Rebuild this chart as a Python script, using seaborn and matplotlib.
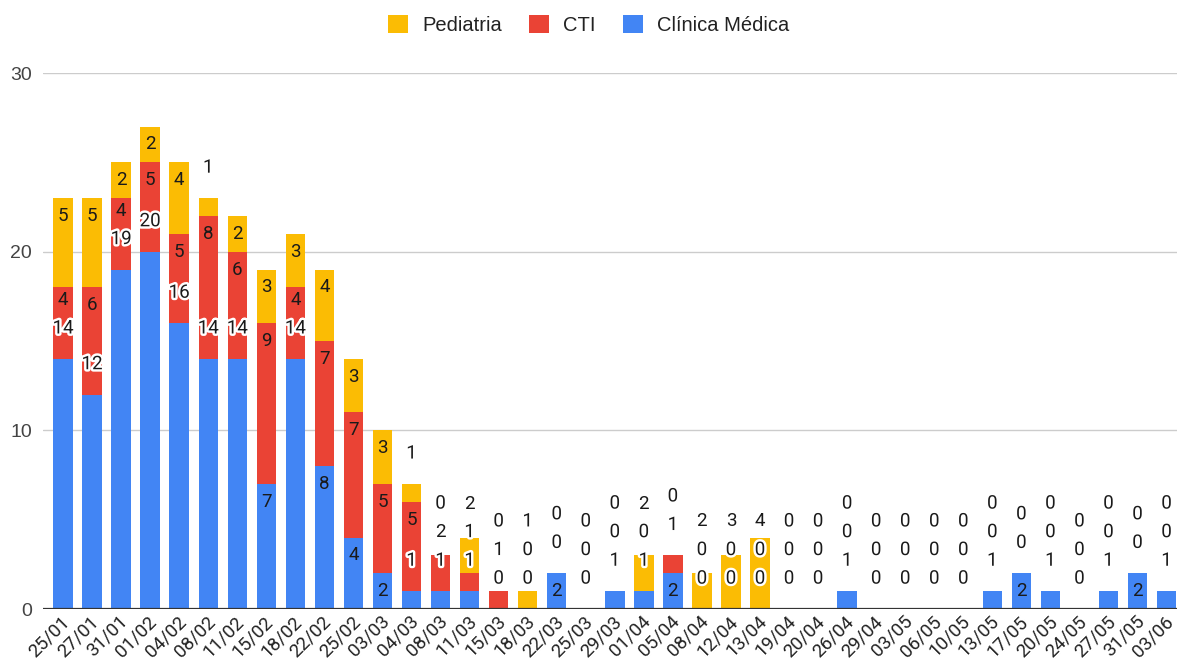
import numpy as np
import pandas as pd
import matplotlib
matplotlib.use("Agg")
import matplotlib.pyplot as plt
import matplotlib.patheffects as pe
import matplotlib.transforms as mtransforms
from matplotlib.patches import Patch
import seaborn as sns

dates = ["25/01", "27/01", "31/01", "01/02", "04/02", "08/02", "11/02", "15/02", "18/02",
         "22/02", "25/02", "03/03", "04/03", "08/03", "11/03", "15/03", "18/03", "22/03",
         "25/03", "29/03", "01/04", "05/04", "08/04", "12/04", "13/04", "19/04", "20/04",
         "26/04", "29/04", "03/05", "06/05", "10/05", "13/05", "17/05", "20/05", "24/05",
         "27/05", "31/05", "03/06"]
clinica = [14, 12, 19, 20, 16, 14, 14, 7, 14, 8, 4, 2, 1, 1, 1, 0, 0, 2, 0, 1, 1, 2, 0, 0, 0,
           0, 0, 1, 0, 0, 0, 0, 1, 2, 1, 0, 1, 2, 1]
cti = [4, 6, 4, 5, 5, 8, 6, 9, 4, 7, 7, 5, 5, 2, 1, 1, 0, 0, 0, 0, 0, 1, 0, 0, 0,
       0, 0, 0, 0, 0, 0, 0, 0, 0, 0, 0, 0, 0, 0]
pediatria = [5, 5, 2, 2, 4, 1, 2, 3, 3, 4, 3, 3, 1, 0, 2, 0, 1, 0, 0, 0, 2, 0, 2, 3, 4,
             0, 0, 0, 0, 0, 0, 0, 0, 0, 0, 0, 0, 0, 0]
series_names = ["Clínica Médica", "CTI", "Pediatria"]
y_ticks = [0, 10, 20, 30]

BLUE = "#4285F4"
RED = "#EA4335"
YEL = "#FBBC04"

sns.set_theme(style="white")
plt.rcParams["font.family"] = ["Liberation Sans", "DejaVu Sans"]

fig, ax = plt.subplots(figsize=(11.77, 6.65), dpi=100)
fig.subplots_adjust(left=43 / 1177, right=1.0, bottom=1 - 609 / 665, top=1 - 73 / 665)

df = pd.DataFrame({"date": dates, "cm": clinica, "cti": cti, "ped": pediatria})
df["l2"] = df["cm"] + df["cti"]
df["l3"] = df["l2"] + df["ped"]

for col, c in [("l3", YEL), ("l2", RED), ("cm", BLUE)]:
    sns.barplot(data=df, x="date", y=col, order=dates, color=c, saturation=1,
                width=0.67, linewidth=0, errorbar=None, ax=ax, zorder=2)

ax.set_xlim(-0.69, len(dates) - 1 + 0.36)
ax.set_ylim(0, 30)
ax.set_yticks(y_ticks)
ax.set_yticklabels([str(t) for t in y_ticks])
ax.yaxis.grid(True, color="#cccccc", lw=1, zorder=0)
ax.xaxis.grid(False)
for s in ax.spines.values():
    s.set_visible(False)
ax.axhline(0, color="#333333", lw=1.6, zorder=3)
ax.set_xlabel("")
ax.set_ylabel("")
ax.tick_params(axis="y", length=0, pad=8, labelsize=14, labelcolor="#444444")
ax.tick_params(axis="x", length=0, pad=7, labelsize=13.5, labelcolor="#222222")
shift = mtransforms.ScaledTranslation(4 / 100, 0, fig.dpi_scale_trans)
for lab in ax.get_xticklabels():
    lab.set_rotation(45)
    lab.set_ha("right")
    lab.set_va("center")
    lab.set_rotation_mode("anchor")
    lab.set_family(["Roboto", "DejaVu Sans"])
    lab.set_transform(lab.get_transform() + shift)

# data labels
IN_OFF = 1.0
OUT_OFF = 1.7
GAP = 1.6
for i in range(len(dates)):
    vals = [clinica[i], cti[i], pediatria[i]]
    bottom = 0
    prev = None
    for v in vals:
        top = bottom + v
        fits = (v >= 2) and (v < 10)
        y = top - IN_OFF if fits else top + OUT_OFF
        if prev is not None:
            y = max(y, prev + GAP)
        kw = {}
        if not fits:
            kw["path_effects"] = [pe.withStroke(linewidth=3.5, foreground="white")]
        ax.text(i, y, str(v), ha="center", va="center", fontsize=13.5,
                color="#1a1a1a", family=["Roboto", "DejaVu Sans"], zorder=5, **kw)
        prev = y
        bottom = top

handles = [Patch(facecolor=YEL, edgecolor="none"),
           Patch(facecolor=RED, edgecolor="none"),
           Patch(facecolor=BLUE, edgecolor="none")]
fig.legend(handles, ["Pediatria", "CTI", "Clínica Médica"], loc="center",
           bbox_to_anchor=(0.5, 1 - 25 / 665), ncol=3, frameon=False, fontsize=14.5,
           handlelength=1.0, handleheight=1.0, handletextpad=0.7, columnspacing=1.35,
           labelcolor="#222222")

fig.savefig("out.png", dpi=100)
